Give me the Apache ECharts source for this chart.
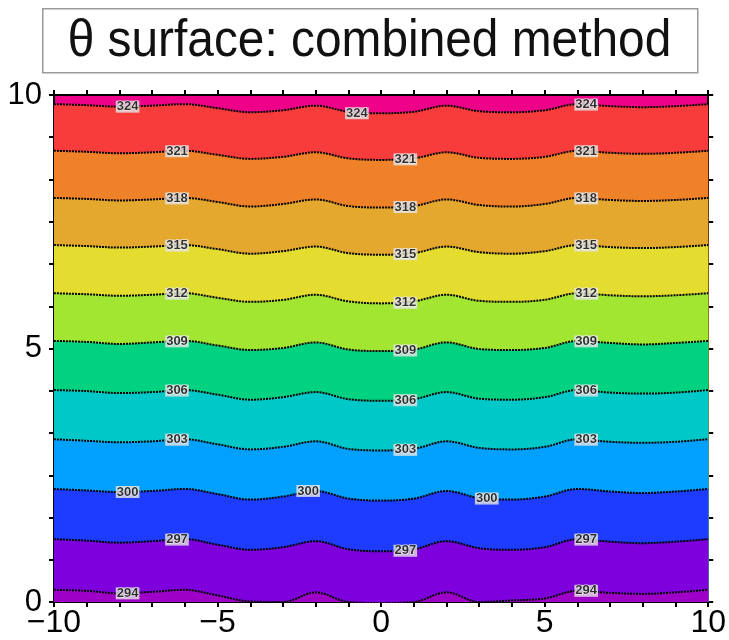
<!DOCTYPE html>
<html><head><meta charset="utf-8">
<script src="https://cdn.jsdelivr.net/npm/echarts@6/dist/echarts.min.js"></script>
<style>html,body{margin:0;padding:0;background:#fff}#c{width:729px;height:640px}</style>
</head><body><div id="c"></div>
<script>
// x positions at which each contour's height was read
const xs = [-10,-9,-8,-7,-6,-5,-4,-3,-2,-1,0,1,2,3,4,5,6,7,8,9,10];

// y position of each θ contour line
const c324 = [9.82,9.80,9.77,9.79,9.82,9.74,9.66,9.70,9.79,9.67,9.64,9.67,9.79,9.68,9.66,9.70,9.82,9.78,9.76,9.78,9.82];
const c321 = [8.90,8.88,8.85,8.87,8.90,8.82,8.74,8.78,8.87,8.75,8.72,8.75,8.87,8.76,8.74,8.78,8.90,8.86,8.84,8.86,8.90];
const c318 = [7.97,7.95,7.92,7.94,7.97,7.89,7.80,7.85,7.94,7.81,7.78,7.81,7.94,7.83,7.80,7.85,7.97,7.93,7.91,7.93,7.97];
const c315 = [7.04,7.02,6.99,7.01,7.04,6.96,6.87,6.92,7.01,6.88,6.85,6.88,7.01,6.90,6.87,6.92,7.04,7.00,6.98,7.00,7.04];
const c312 = [6.09,6.07,6.04,6.06,6.09,6.00,5.92,5.96,6.06,5.93,5.89,5.93,6.06,5.94,5.92,5.96,6.09,6.05,6.03,6.05,6.09];
const c309 = [5.15,5.13,5.09,5.12,5.15,5.06,4.97,5.01,5.12,4.98,4.95,4.98,5.12,4.99,4.97,5.01,5.15,5.11,5.08,5.11,5.15];
const c306 = [4.18,4.16,4.12,4.14,4.18,4.09,3.99,4.04,4.14,4.00,3.97,4.00,4.14,4.01,3.99,4.04,4.18,4.13,4.11,4.13,4.18];
const c303 = [3.21,3.18,3.15,3.17,3.21,3.11,3.01,3.06,3.17,3.02,2.99,3.02,3.17,3.04,3.01,3.06,3.21,3.16,3.14,3.16,3.21];
const c300 = [2.23,2.20,2.17,2.19,2.23,2.13,2.02,2.08,2.19,2.04,2.00,2.04,2.19,2.05,2.02,2.08,2.23,2.18,2.15,2.18,2.23];
const c297 = [1.24,1.21,1.17,1.20,1.24,1.13,1.03,1.08,1.20,1.04,1.00,1.04,1.20,1.06,1.03,1.08,1.24,1.19,1.16,1.19,1.24];
const c294 = [0.24,0.22,0.17,0.20,0.24,0.13,0.01,0.00,0.19,0.00,-0.02,0.00,0.19,0.00,0.03,0.07,0.22,0.18,0.16,0.19,0.24];

const levels = [324,321,318,315,312,309,306,303,300,297,294];
// fill colour of the band just below each level; above 324 uses topColor
const bandColors = ['#f83c3c','#ef8228','#e4a82e','#e5dc30','#a3e632','#00d282','#00c8c8','#00a0ff','#1e3cff','#7e00dc','#9e00c8'];
const topColor = '#ee0088';

// contour labels: value, x, y
const labelVals = [324,324,324, 321,321,321, 318,318,318, 315,315,315, 312,312,312, 309,309,309, 306,306,306, 303,303,303, 300,300,300, 297,297,297, 294,294];
const labelXs  = [-7.75,-0.74,6.27, -6.24,0.74,6.27, -6.24,0.74,6.27, -6.24,0.74,6.27, -6.24,0.74,6.27, -6.24,0.74,6.27, -6.24,0.74,6.27, -6.24,0.74,6.27, -7.75,-2.23,3.23, -6.24,0.74,6.27, -7.75,6.27];
const labelYs  = [9.77,9.64,9.81, 8.89,8.73,8.89, 7.96,7.79,7.96, 7.03,6.86,7.03, 6.08,5.90,6.08, 5.14,4.96,5.14, 4.17,3.98,4.17, 3.20,3.00,3.20, 2.17,2.19,2.04, 1.23,1.01,1.23, 0.17,0.22];

const xTickLabels = [-10,-5,0,5,10];
const yTickLabels = [0,5,10];

const contourData = [c324,c321,c318,c315,c312,c309,c306,c303,c300,c297,c294];

const chart = echarts.init(document.getElementById('c'), null, {renderer:'canvas'});
const FONT = 'Liberation Sans';
const minus = v => String(v).replace('-', '\u2212');

const series = contourData.map((ys, k) => ({
  type: 'line',
  name: String(levels[k]),
  data: xs.map((x, i) => [x, ys[i]]),
  smooth: 0.35,
  symbol: 'none',
  silent: true,
  clip: true,
  lineStyle: {color: '#000', width: 2, type: [2, 1]},
  areaStyle: {color: bandColors[k], opacity: 1, origin: 'start'},
  z: 2
}));

series.push({
  type: 'scatter',
  silent: true,
  symbol: 'rect',
  symbolSize: 2,
  itemStyle: {color: 'rgba(0,0,0,0)'},
  data: labelXs.map((x, i) => ({value: [x, labelYs[i]], name: String(labelVals[i])})),
  label: {
    show: true, position: 'inside',
    formatter: '{b}',
    fontSize: 13, fontWeight: 'bold', fontFamily: FONT, color: '#000',
    textBorderColor: '#fff', textBorderWidth: 1,
    backgroundColor: '#e4e4e4', padding: [0, 1, -1, 1]
  },
  labelLayout: {hideOverlap: false},
  z: 10
});

function xAxisDef(pos, showLabels) {
  return {
    type: 'value', min: -10, max: 10, interval: 5, position: pos,
    axisLine: {show: true, onZero: false, lineStyle: {color: '#000', width: 2}},
    axisTick: {show: true, inside: false, length: 5, lineStyle: {color: '#000', width: 2}},
    minorTick: {show: true, splitNumber: 5, length: 5, lineStyle: {color: '#000', width: 2}},
    splitLine: {show: false}, minorSplitLine: {show: false},
    axisLabel: {show: showLabels, fontSize: 32, color: '#000', margin: 5, fontFamily: FONT,
      showMinLabel: true, showMaxLabel: true,
      formatter: v => xTickLabels.includes(v) ? minus(v) : ''}
  };
}
function yAxisDef(pos, showLabels) {
  return {
    type: 'value', min: 0, max: 10, interval: 5, position: pos,
    axisLine: {show: true, onZero: false, lineStyle: {color: '#000', width: 2}},
    axisTick: {show: true, inside: false, length: 5, lineStyle: {color: '#000', width: 2}},
    minorTick: {show: true, splitNumber: 6, length: 5, lineStyle: {color: '#000', width: 2}},
    splitLine: {show: false}, minorSplitLine: {show: false},
    axisLabel: {show: showLabels, fontSize: 31, color: '#000', margin: 12, fontFamily: FONT,
      showMinLabel: true, showMaxLabel: true,
      formatter: v => yTickLabels.includes(v) ? String(v) : ''}
  };
}

chart.setOption({
  animation: false,
  grid: {left: 54, top: 95, width: 659, height: 507, show: true, backgroundColor: topColor, borderWidth: 0},
  xAxis: [xAxisDef('bottom', true), xAxisDef('top', false)],
  yAxis: [yAxisDef('left', true), yAxisDef('right', false)],
  series: series,
  graphic: [
    {type: 'rect', left: 42, top: 8, shape: {width: 655, height: 64},
     style: {fill: '#fff', stroke: '#9a9a9a', lineWidth: 1.5}},
    {type: 'text', x: 369.5, y: 42, scaleX: 0.92,
     style: {text: '\u03b8 surface: combined method', font: '52px "Liberation Sans"', fill: '#111',
       align: 'center', verticalAlign: 'middle', textAlign: 'center', textVerticalAlign: 'middle'}}
  ]
});
</script>
</body></html>
